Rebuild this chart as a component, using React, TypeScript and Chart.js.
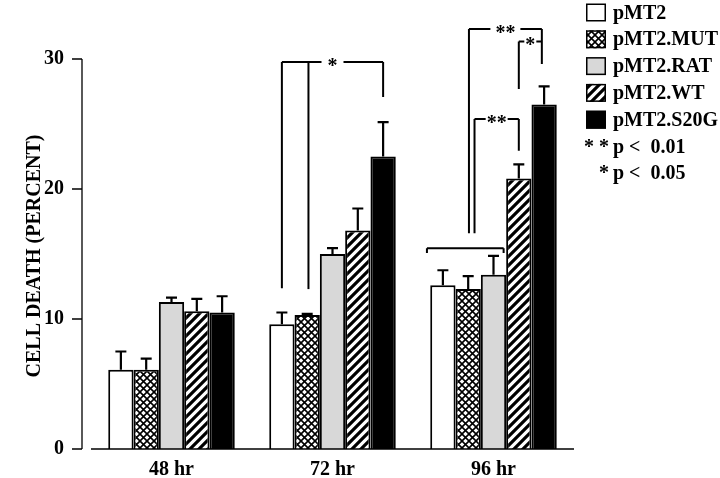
import React, { useEffect, useRef } from 'react';
import { Chart, registerables } from 'chart.js';

Chart.register(...registerables);

// ---------- data ----------
const categories = ['48 hr', '72 hr', '96 hr'];
const seriesNames = ['pMT2', 'pMT2.MUT', 'pMT2.RAT', 'pMT2.WT', 'pMT2.S20G'];

const pMT2 = [6.1, 9.6, 12.6];
const pMT2Mut = [6.1, 10.3, 12.3];
const pMT2Rat = [11.3, 15.0, 13.4];
const pMT2Wt = [10.6, 16.8, 20.8];
const pMT2S20G = [10.5, 22.5, 26.5];

const pMT2Err = [1.4, 0.9, 1.15];
const pMT2MutErr = [0.85, 0.1, 1.0];
const pMT2RatErr = [0.35, 0.45, 1.45];
const pMT2WtErr = [0.95, 1.7, 1.1];
const pMT2S20GErr = [1.25, 2.65, 1.4];

const yTicks = [0, 10, 20, 30];
const yTitle = 'CELL DEATH (PERCENT)';
const pLegendStars = ['* *', '*'];
const pLegendText = ['p <  0.01', 'p <  0.05'];

// significance brackets: points are [group, bar, offset in bar widths, value]
const bracketPoints: number[][][] = [
  [[1, 0, 0, 12.36], [1, 0, 0, 29.77], [1, 4, 0, 29.77], [1, 4, 0, 27.07]],
  [[1, 1, 0.05, 12.3], [1, 1, 0.05, 29.77]],
  [[2, 0, -0.63, 15.07], [2, 0, -0.63, 15.45], [2, 2, 0.4, 15.45], [2, 2, 0.4, 15.07]],
  [[2, 1, 0.03, 16.6], [2, 1, 0.03, 32.31], [2, 4, -0.09, 32.31], [2, 4, -0.09, 29.62]],
  [[2, 3, 0, 27.69], [2, 3, 0, 31.35], [2, 4, -0.09, 31.35]],
  [[2, 1, 0.25, 16.6], [2, 1, 0.25, 25.38], [2, 3, 0, 25.38], [2, 3, 0, 22.94]],
];
const bracketLabels = ['*', '', '', '**', '*', '**'];
const bracketGaps = [6, 0, 0, 5, 1, 1];

const seriesValues = [pMT2, pMT2Mut, pMT2Rat, pMT2Wt, pMT2S20G];
const seriesErrors = [pMT2Err, pMT2MutErr, pMT2RatErr, pMT2WtErr, pMT2S20GErr];

const FONT = "'Liberation Serif', 'Times New Roman', serif";

function makeCrossHatch(ctxRef: CanvasRenderingContext2D): CanvasPattern | string {
  const s = 7;
  const c = document.createElement('canvas');
  c.width = s; c.height = s;
  const g = c.getContext('2d')!;
  g.fillStyle = '#fff'; g.fillRect(0, 0, s, s);
  g.strokeStyle = '#000'; g.lineWidth = 1.6;
  g.beginPath();
  g.moveTo(-1, -1); g.lineTo(s + 1, s + 1);
  g.moveTo(s + 1, -1); g.lineTo(-1, s + 1);
  g.stroke();
  return ctxRef.createPattern(c, 'repeat') || '#888';
}

function makeStripes(ctxRef: CanvasRenderingContext2D): CanvasPattern | string {
  const s = 9;
  const c = document.createElement('canvas');
  c.width = s; c.height = s;
  const g = c.getContext('2d')!;
  g.fillStyle = '#fff'; g.fillRect(0, 0, s, s);
  g.strokeStyle = '#000'; g.lineWidth = 3.2;
  g.beginPath();
  g.moveTo(-1, s + 1); g.lineTo(s + 1, -1);
  g.moveTo(-s / 2 - 1, s / 2 + 1); g.lineTo(s / 2 + 1, -s / 2 - 1);
  g.moveTo(s / 2 - 1, s * 1.5 + 1); g.lineTo(s * 1.5 + 1, s / 2 - 1);
  g.stroke();
  return ctxRef.createPattern(c, 'repeat') || '#444';
}

export default function App() {
  const ref = useRef<HTMLCanvasElement>(null);

  useEffect(() => {
    const canvas = ref.current!;
    const ctx0 = canvas.getContext('2d')!;
    const fills = ['#ffffff', makeCrossHatch(ctx0), '#d8d8d8', makeStripes(ctx0), '#000000'];

    const overlay = {
      id: 'overlay',
      afterDatasetsDraw(chart: any) {
        const ctx: CanvasRenderingContext2D = chart.ctx;
        const ys = chart.scales.y;
        const area = chart.chartArea;
        ctx.save();
        ctx.strokeStyle = '#000';
        ctx.fillStyle = '#000';

        // baseline
        ctx.lineWidth = 1.5;
        ctx.beginPath();
        ctx.moveTo(area.left, ys.getPixelForValue(0));
        ctx.lineTo(area.right, ys.getPixelForValue(0));
        ctx.stroke();

        // y axis (detached)
        const ax = area.left - 9;
        ctx.lineWidth = 1.3;
        ctx.beginPath();
        ctx.moveTo(ax, ys.getPixelForValue(yTicks[yTicks.length - 1]));
        ctx.lineTo(ax, ys.getPixelForValue(0));
        yTicks.forEach((t) => {
          const py = ys.getPixelForValue(t);
          ctx.moveTo(ax - 10, py);
          ctx.lineTo(ax, py);
        });
        ctx.stroke();

        // error bars
        ctx.lineWidth = 2.2;
        seriesValues.forEach((vals, k) => {
          const meta = chart.getDatasetMeta(k);
          vals.forEach((v, i) => {
            const el = meta.data[i];
            const yTop = ys.getPixelForValue(v);
            const yErr = ys.getPixelForValue(v + seriesErrors[k][i]);
            ctx.beginPath();
            ctx.moveTo(el.x, yTop);
            ctx.lineTo(el.x, yErr);
            ctx.moveTo(el.x - 5.5, yErr);
            ctx.lineTo(el.x + 5.5, yErr);
            ctx.stroke();
          });
        });

        // brackets
        const px = (p: number[]) => {
          const el = chart.getDatasetMeta(p[1]).data[p[0]];
          return el.x + p[2] * el.width;
        };
        ctx.font = `bold 20px ${FONT}`;
        ctx.lineWidth = 2;
        bracketPoints.forEach((pts, bi) => {
          const label = bracketLabels[bi];
          const xy = pts.map((p) => [px(p), ys.getPixelForValue(p[3])]);
          ctx.beginPath();
          for (let s = 0; s < xy.length - 1; s++) {
            const [x1, y1] = xy[s];
            const [x2, y2] = xy[s + 1];
            if (label && s === 1) {
              const mid = (x1 + x2) / 2;
              const tw = ctx.measureText(label).width;
              const hg = tw / 2 + bracketGaps[bi];
              ctx.moveTo(x1, y1); ctx.lineTo(mid - hg, y1);
              ctx.moveTo(mid + hg, y2); ctx.lineTo(x2, y2);
            } else {
              ctx.moveTo(x1, y1); ctx.lineTo(x2, y2);
            }
          }
          ctx.stroke();
          if (label) {
            const [x1, y1] = xy[1];
            const [x2] = xy[2];
            const m = ctx.measureText(label);
            ctx.textAlign = 'center';
            ctx.textBaseline = 'alphabetic';
            const off = (m.actualBoundingBoxAscent - m.actualBoundingBoxDescent) / 2;
            ctx.fillText(label, (x1 + x2) / 2, y1 + off);
          }
        });

        // y title
        ctx.save();
        ctx.translate(35, 256);
        ctx.rotate(-Math.PI / 2);
        ctx.textAlign = 'center';
        ctx.textBaseline = 'middle';
        ctx.font = `bold 20px ${FONT}`;
        ctx.fillText(yTitle, 0, 0);
        ctx.restore();

        // legend
        const lx = 586, boxW = 20, boxH = 18, rowH = 26.8, firstCy = 12.5, tx = 613;
        ctx.font = `bold 20px ${FONT}`;
        ctx.textBaseline = 'middle';
        ctx.textAlign = 'left';
        seriesNames.forEach((name, k) => {
          const cy = firstCy + k * rowH;
          ctx.fillStyle = fills[k] as any;
          ctx.fillRect(lx, cy - boxH / 2, boxW, boxH);
          ctx.lineWidth = 1.5;
          ctx.strokeStyle = '#000';
          ctx.strokeRect(lx + 0.75, cy - boxH / 2 + 0.75, boxW - 1.5, boxH - 1.5);
          ctx.fillStyle = '#000';
          ctx.fillText(name, tx, cy + 1);
        });
        pLegendText.forEach((t, k) => {
          const cy = firstCy + (seriesNames.length + k) * rowH + 1;
          ctx.textAlign = 'right';
          ctx.fillText(pLegendStars[k], tx - 4, cy);
          ctx.textAlign = 'left';
          ctx.fillText(t, tx, cy);
        });
        ctx.restore();
      },
    };

    const chart = new Chart(canvas, {
      type: 'bar',
      data: {
        labels: categories,
        datasets: seriesNames.map((name, k) => ({
          label: name,
          data: seriesValues[k],
          backgroundColor: fills[k] as any,
          borderColor: '#000',
          borderWidth: 2,
          categoryPercentage: 0.786,
          barPercentage: 1.0,
        })),
      },
      options: {
        animation: false,
        responsive: false,
        devicePixelRatio: 1,
        layout: { padding: { top: 59, right: 146, bottom: 0, left: 0 } },
        plugins: { legend: { display: false }, tooltip: { enabled: false } },
        scales: {
          x: {
            type: 'category',
            offset: true,
            grid: { display: false, drawTicks: false },
            border: { display: false },
            ticks: { color: '#000', font: { family: FONT, size: 20, weight: 'bold' }, padding: 9 },
            afterFit: (s: any) => { s.height = 29; s.paddingLeft = 0; s.paddingRight = 0; },
          },
          y: {
            min: 0,
            max: 30,
            grid: { display: false, drawTicks: false },
            border: { display: false },
            afterBuildTicks: (s: any) => { s.ticks = yTicks.map((v) => ({ value: v })); },
            ticks: { color: '#000', font: { family: FONT, size: 20, weight: 'bold' }, padding: 27 },
            afterFit: (s: any) => { s.width = 91; s.paddingTop = 0; s.paddingBottom = 0; },
          },
        },
      } as any,
      plugins: [overlay],
    });
    return () => chart.destroy();
  }, []);

  return (
    <div style={{ position: 'fixed', left: 0, top: 0, width: 720, height: 478, background: '#fff' }}>
      <canvas ref={ref} width={720} height={478} style={{ display: 'block', width: 720, height: 478 }} />
    </div>
  );
}
